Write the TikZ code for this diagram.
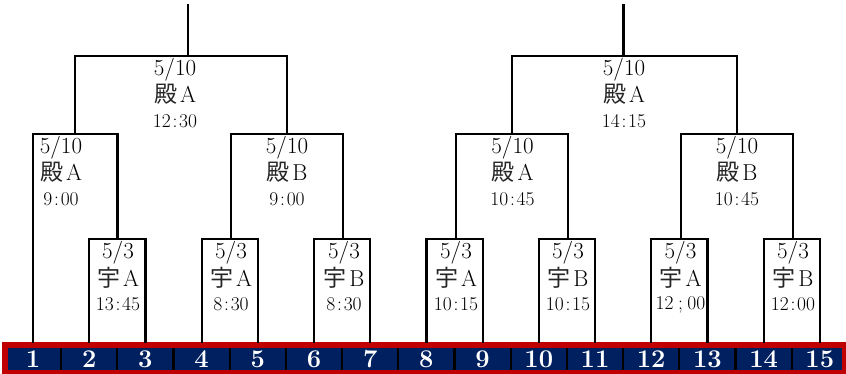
\documentclass[tikz,border=0pt]{standalone}
\usepackage{fontspec}
\newfontfamily\cjkfont{Noto Sans CJK JP}
\definecolor{barred}{HTML}{C00000}
\definecolor{barnavy}{HTML}{002060}
\newcommand\tcol{\kern1.8pt:\kern1.8pt}
\newcommand\tsemi{\kern4.5pt;\kern4.5pt}
\tikzset{
  bracket/.style={line width=2.2pt, line join=miter, line cap=rect},
  datet/.style={inner sep=0pt, font=\fontsize{23}{25}\selectfont},
  kanjit/.style={inner sep=0pt, font=\fontsize{23}{25}\selectfont},
  timet/.style={inner sep=0pt, font=\fontsize{19.5}{22}\selectfont},
  numt/.style={inner sep=0pt, text=white, font=\fontsize{25.5}{27}\selectfont\bfseries},
  divline/.style={line width=2.2pt, black}
}
\begin{document}
\begin{tikzpicture}[x=1pt,y=-1pt]
\useasboundingbox (0,0) rectangle (846,374);
% bar
\fill[barred] (2,342) rectangle (845.5,373.5);
\fill[barnavy] (8,347.5) rectangle (841.5,370);
\foreach \i in {1,...,14} {
  \draw[divline] ({33+(\i-1)*56.2+28.1},347.5) -- ({33+(\i-1)*56.2+28.1},370);
}
\foreach \i in {1,...,15} {
  \coordinate (t\i) at ({33+(\i-1)*56.2},342);
  \node[numt] (n\i) at ({33+(\i-1)*56.2},359.5) {\i};
}
% match points
\coordinate (mA) at (117.5,239);
\coordinate (mB) at (75.25,134);
\coordinate (mC) at (230.8,239);
\coordinate (mD) at (343.2,239);
\coordinate (mE) at (287,134);
\coordinate (mF) at (188,56);
\coordinate (topL) at (188,5);
\coordinate (mG) at (455.9,239);
\coordinate (mH) at (568.3,239);
\coordinate (mI) at (680.7,239);
\coordinate (mJ) at (793.1,239);
\coordinate (mK) at (512.1,134);
\coordinate (mL) at (736.9,134);
\coordinate (mM) at (623.5,56);
\coordinate (topR) at (623.5,5);
% brackets
\draw[bracket] (t2) |- (mA) -| (t3);
\draw[bracket] (t1) |- (mB) -| (mA);
\draw[bracket] (t4) |- (mC) -| (t5);
\draw[bracket] (t6) |- (mD) -| (t7);
\draw[bracket] (mC) |- (mE) -| (mD);
\draw[bracket] (mB) |- (mF) -| (mE);
\draw[bracket] (mF) -- (topL);
\draw[bracket] (t8) |- (mG) -| (t9);
\draw[bracket] (t10) |- (mH) -| (t11);
\draw[bracket] (t12) |- (mI) -| (t13);
\draw[bracket] (t14) |- (mJ) -| (t15);
\draw[bracket] (mG) |- (mK) -| (mH);
\draw[bracket] (mI) |- (mL) -| (mJ);
\draw[bracket] (mK) |- (mM) -| (mL);
\draw[bracket] (mM) -- (topR);
% labels
\foreach \nm/\x/\y/\d/\k/\l/\t in {
  F/175/56/{5/10}/殿/A/{12\tcol30},
  B/61/134/{5/10}/殿/A/{9\tcol00},
  E/287/134/{5/10}/殿/B/{9\tcol00},
  A/118/239/{5/3}/宇/A/{13\tcol45},
  C/231/239/{5/3}/宇/A/{8\tcol30},
  D/344/239/{5/3}/宇/B/{8\tcol30},
  M/624/56/{5/10}/殿/A/{14\tcol15},
  K/512.5/134/{5/10}/殿/A/{10\tcol45},
  L/737/134/{5/10}/殿/B/{10\tcol45},
  G/456/239/{5/3}/宇/A/{10\tcol15},
  H/568/239/{5/3}/宇/B/{10\tcol15},
  I/680.5/239/{5/3}/宇/A/{12\tsemi00},
  J/793/239/{5/3}/宇/B/{12\tcol00}} {
  \node[datet] (d\nm) at ({\x},{\y+13.5}) {\d};
  \node[kanjit] (k\nm) at ({\x},{\y+38.5}) {{\cjkfont\fontsize{23}{25}\selectfont\color{black!85}\k}\kern3pt\l};
  \node[timet] (h\nm) at ({\x},{\y+65.5}) {\t};
}
\end{tikzpicture}
\end{document}
